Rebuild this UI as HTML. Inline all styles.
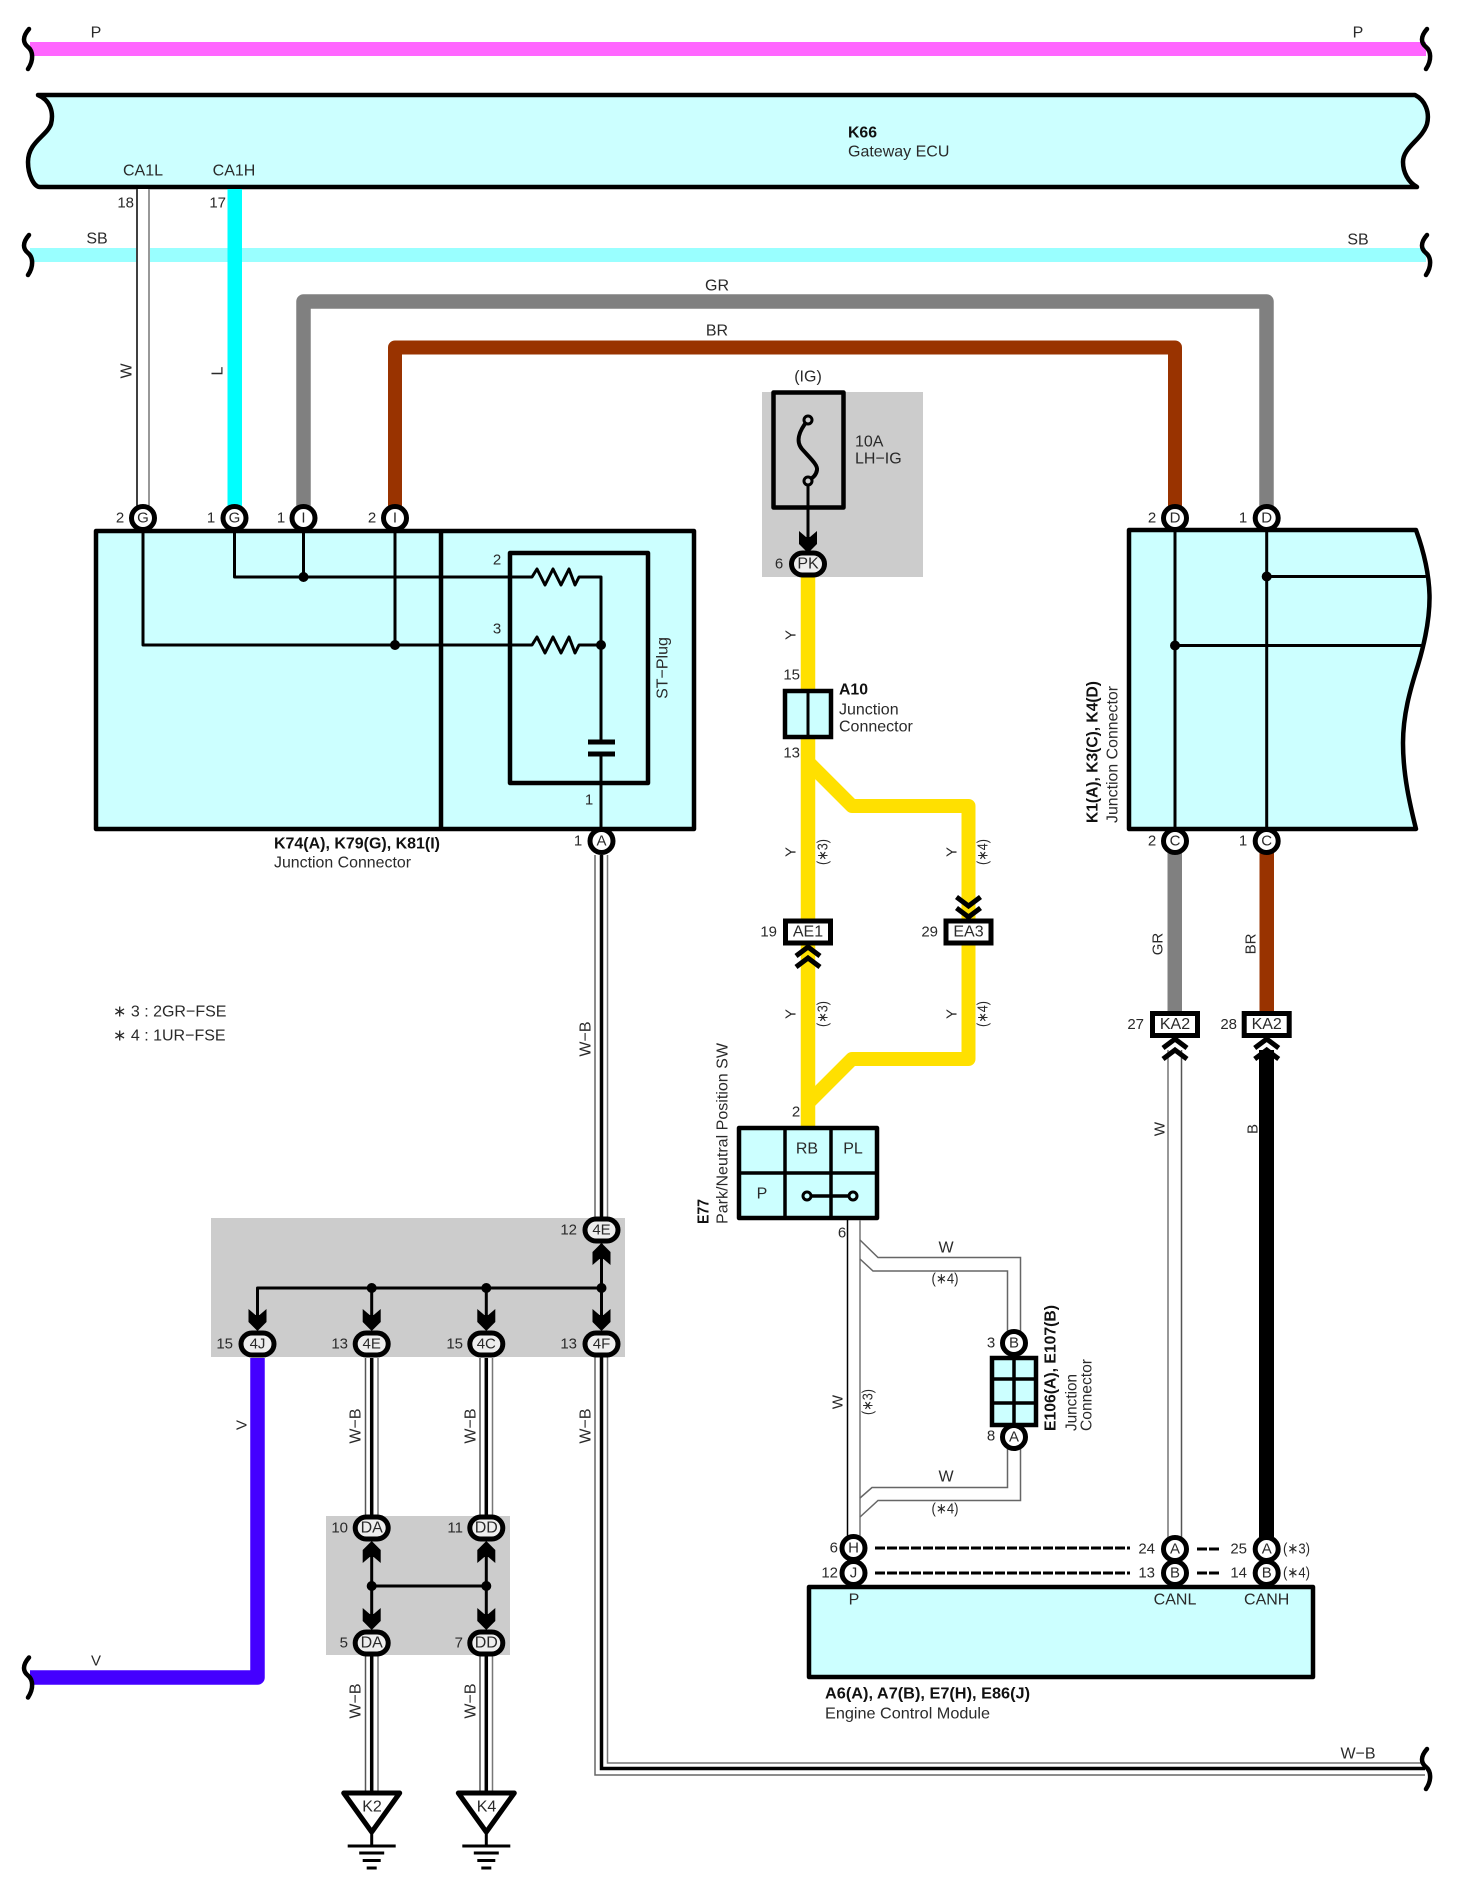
<!DOCTYPE html>
<html><head><meta charset="utf-8"><style>
html,body{margin:0;padding:0;background:#fff}
svg{display:block}
text{font-family:"Liberation Sans",sans-serif;font-size:16px;fill:#2a2a2a;dominant-baseline:central}
.n{font-size:15px}
.e{text-anchor:end}
.m{text-anchor:middle}
.b{font-weight:bold;fill:#111}
.t{fill:none;stroke:#000;stroke-width:3;stroke-linejoin:round;stroke-linecap:round}
</style></head><body>
<svg width="1457" height="1880" viewBox="0 0 1457 1880" xmlns="http://www.w3.org/2000/svg">
<defs>
<path id="br" d="M29,-20 C22,-12 23,-6 28,-2 C33,2 34,11 28,20" fill="none" stroke="#000" stroke-width="4.5" stroke-linecap="round"/>
<path id="ar" d="M-9,-20 L-2,-14 L2,-14 L9,-20 L9,-7 L0,2 L-9,-7Z" fill="#000"/>
<g id="ch" fill="none" stroke="#000" stroke-width="5"><polyline points="-12,11 0,2 12,11"/><polyline points="-12,22 0,13 12,22"/></g>
<rect id="pill" x="-16.5" y="-11" width="33" height="22" rx="11" fill="#eee" stroke="#000" stroke-width="5"/>
<circle id="c" r="11.5" fill="#fff" stroke="#000" stroke-width="5"/>
<rect id="bx" x="-22.5" y="-11" width="45" height="22" fill="#fff" stroke="#000" stroke-width="5"/>
<circle id="d" r="5" fill="#000"/>
<g id="gnd" fill="none" stroke="#000" stroke-linecap="butt">
<polygon points="-28,1 28,1 0,40" fill="#fff" stroke-width="5" stroke-linejoin="round"/>
<line x1="0" y1="40" x2="0" y2="54" stroke-width="3"/>
<line x1="-24" y1="54" x2="24" y2="54" stroke-width="3"/>
<line x1="-12.5" y1="61" x2="12.5" y2="61" stroke-width="3"/>
<line x1="-9" y1="68.500" x2="9" y2="68.500" stroke-width="3"/>
<line x1="-5" y1="76" x2="5" y2="76" stroke-width="3"/>
</g>
</defs>

<!-- grey zones -->
<rect x="762" y="392" width="161" height="185" fill="#ccc"/>
<rect x="211" y="1218" width="414" height="139" fill="#ccc"/>
<rect x="326" y="1516" width="184" height="139" fill="#ccc"/>

<!-- top buses -->
<rect x="30" y="42" width="1396" height="14" fill="#ff66ff"/>
<use href="#br" x="0" y="49"/><use href="#br" x="1398" y="49"/>
<rect x="30" y="248" width="1396" height="14" fill="#99ffff"/>
<use href="#br" x="0" y="255"/><use href="#br" x="1398" y="255"/>
<text x="96" y="33" class="m">P</text><text x="1358" y="33" class="m">P</text>
<text x="97" y="239" class="m">SB</text><text x="1358" y="240" class="m">SB</text>

<!-- K66 -->
<path d="M38,95 C50,100 54,112 51,124 C47,136 28,142 28,162 C28,175 34,187 40,187 L1417,187 C1408,182 1403,172 1403,162 C1403,147 1422,140 1427,124 C1430,112 1425,100 1415,95Z" fill="#ccffff" stroke="#000" stroke-width="4.5" stroke-linejoin="round"/>
<text x="848" y="133" class="b" textLength="29" lengthAdjust="spacingAndGlyphs">K66</text>
<text x="848" y="152">Gateway ECU</text>
<text x="143" y="171" class="m">CA1L</text><text x="234" y="171" class="m">CA1H</text>
<text x="134" y="203" class="e n">18</text><text x="226" y="203" class="e n">17</text>

<!-- wires from K66 -->
<rect x="136" y="189" width="14" height="320" fill="#fff"/>
<line x1="137" y1="189" x2="137" y2="510" stroke="#000" stroke-width="1.5"/>
<line x1="149" y1="189" x2="149" y2="510" stroke="#777" stroke-width="1.5"/>
<rect x="227.500" y="189" width="14.500" height="320" fill="#00ffff"/>
<text transform="translate(127,371) rotate(-90)" class="m">W</text>
<text transform="translate(218,371) rotate(-90)" class="m">L</text>

<path d="M303.500,510 V301.500 H1266.500 V510" fill="none" stroke="#808080" stroke-width="14.500" stroke-linejoin="round"/>
<path d="M395,510 V347.500 H1175 V510" fill="none" stroke="#993300" stroke-width="14" stroke-linejoin="round"/>
<text x="717" y="286" class="m">GR</text><text x="717" y="331" class="m">BR</text>

<!-- left junction box -->
<rect x="96" y="531" width="598" height="298" fill="#ccffff" stroke="#000" stroke-width="4.5" stroke-linejoin="round"/>
<line x1="441" y1="531" x2="441" y2="829" stroke="#000" stroke-width="4.5"/>
<rect x="510" y="553" width="138" height="230" fill="none" stroke="#000" stroke-width="4.5" stroke-linejoin="round"/>
<path class="t" d="M143,531 V645 H532 L537,637 L545,653 L553,637 L561,653 L569,637 L575,653 L579,645 H601"/>
<path class="t" d="M234.500,531 V577 H532 L537,569 L545,585 L553,569 L561,585 L569,569 L575,585 L579,577 H601 V742"/>
<line class="t" x1="303.500" y1="531" x2="303.500" y2="577"/>
<line class="t" x1="395" y1="531" x2="395" y2="645"/>
<line class="t" x1="601" y1="754" x2="601" y2="829"/>
<line x1="588" y1="742" x2="615" y2="742" stroke="#000" stroke-width="5"/>
<line x1="588" y1="754" x2="615" y2="754" stroke="#000" stroke-width="5"/>
<use href="#d" x="303.500" y="577"/><use href="#d" x="395" y="645"/><use href="#d" x="601" y="645"/>
<text x="497" y="560" class="m n">2</text><text x="497" y="629" class="m n">3</text><text x="589" y="800" class="m n">1</text>
<text transform="translate(663,668) rotate(-90)" class="m">ST&#8722;Plug</text>
<text x="274" y="844" class="b" textLength="166" lengthAdjust="spacingAndGlyphs">K74(A), K79(G), K81(I)</text>
<text x="274" y="863" textLength="137" lengthAdjust="spacingAndGlyphs">Junction Connector</text>

<use href="#c" x="143" y="518"/><use href="#c" x="234.500" y="518"/><use href="#c" x="303.500" y="518"/><use href="#c" x="395" y="518"/>
<text x="143" y="518" class="m n">G</text><text x="234.500" y="518" class="m n">G</text><text x="303.500" y="518" class="m n">I</text><text x="395" y="518" class="m n">I</text>
<text x="120" y="518" class="m n">2</text><text x="211" y="518" class="m n">1</text><text x="281" y="518" class="m n">1</text><text x="372" y="518" class="m n">2</text>

<!-- W-B from A -->
<path d="M595,855 V1775 H1425" fill="none" stroke="#666" stroke-width="1.500"/>
<path d="M601.500,855 V1768.500 H1425" fill="none" stroke="#000" stroke-width="3.500"/>
<path d="M607.500,855 V1763 H1425" fill="none" stroke="#777" stroke-width="1.500"/>
<rect x="593" y="1219" width="17" height="138" fill="#ccc"/>
<use href="#br" x="1398" y="1769"/>
<text x="1358" y="1754" class="m">W&#8722;B</text>
<use href="#c" x="601.500" y="841"/><text x="601.500" y="841" class="m n">A</text><text x="578" y="841" class="m n">1</text>
<text transform="translate(586,1039) rotate(-90)" class="m">W&#8722;B</text>

<!-- legend -->
<text x="113" y="1012">&#8727; 3 : 2GR&#8722;FSE</text>
<text x="113" y="1036">&#8727; 4 : 1UR&#8722;FSE</text>

<!-- fuse -->
<rect x="773.500" y="392.500" width="70" height="115" fill="none" stroke="#000" stroke-width="4.500" stroke-linejoin="round"/>
<path d="M808,420 C798,432 796,442 802,449 C810,458 818,465 817,470 C816,476 812,478 808,481" fill="none" stroke="#000" stroke-width="4"/>
<line x1="808" y1="481" x2="808" y2="550" stroke="#000" stroke-width="3"/>
<circle cx="808" cy="420" r="4" fill="#ccc" stroke="#000" stroke-width="3"/>
<circle cx="808" cy="481" r="4" fill="#ccc" stroke="#000" stroke-width="3"/>
<use href="#ar" x="808" y="551"/>
<text x="808" y="377" class="m">(IG)</text>
<text x="855" y="442">10A</text><text x="855" y="459">LH&#8722;IG</text>

<!-- yellow -->
<path d="M808,570 V1128" fill="none" stroke="#ffe000" stroke-width="14.500"/>
<path d="M808,762 L852,806 H968.500 V920" fill="none" stroke="#ffe000" stroke-width="14" stroke-linejoin="round"/>
<path d="M808,1103 L852,1059 H968.500 V945" fill="none" stroke="#ffe000" stroke-width="14" stroke-linejoin="round"/>
<use href="#pill" x="808" y="564"/><text x="808" y="564" class="m">PK</text><text x="779" y="564" class="m n">6</text>
<text transform="translate(791,635) rotate(-90)" class="m n">Y</text>
<text x="800" y="675" class="e n">15</text><text x="800" y="753" class="e n">13</text>
<rect x="785" y="691" width="46" height="46" fill="#ccffff" stroke="#000" stroke-width="4.500"/>
<line x1="808" y1="691" x2="808" y2="737" stroke="#000" stroke-width="3"/>
<text x="839" y="690" class="b" textLength="29" lengthAdjust="spacingAndGlyphs">A10</text>
<text x="839" y="710">Junction</text><text x="839" y="727">Connector</text>

<use href="#bx" x="808" y="932"/><text x="808" y="932" class="m">AE1</text>
<use href="#bx" x="968.500" y="932"/><text x="968.500" y="932" class="m">EA3</text>
<text x="777" y="932" class="e n">19</text><text x="938" y="932" class="e n">29</text>
<use href="#ch" x="808" y="945"/>
<use href="#ch" transform="translate(968.500,919) scale(1,-1)"/>
<text transform="translate(791,852) rotate(-90)" class="m n">Y</text>
<text transform="translate(823,852) rotate(-90)" class="m n" textLength="26" lengthAdjust="spacingAndGlyphs">(&#8727;3)</text>
<text transform="translate(791,1014) rotate(-90)" class="m n">Y</text>
<text transform="translate(823,1014) rotate(-90)" class="m n" textLength="26" lengthAdjust="spacingAndGlyphs">(&#8727;3)</text>
<text transform="translate(952,852) rotate(-90)" class="m n">Y</text>
<text transform="translate(983,852) rotate(-90)" class="m n" textLength="26" lengthAdjust="spacingAndGlyphs">(&#8727;4)</text>
<text transform="translate(952,1014) rotate(-90)" class="m n">Y</text>
<text transform="translate(983,1014) rotate(-90)" class="m n" textLength="26" lengthAdjust="spacingAndGlyphs">(&#8727;4)</text>
<text x="796" y="1112" class="m n">2</text>

<!-- E77 -->
<rect x="739" y="1128" width="138" height="90" fill="#ccffff" stroke="#000" stroke-width="4.500" stroke-linejoin="round"/>
<path d="M785,1128 V1218 M831,1128 V1218 M739,1173 H877" stroke="#000" stroke-width="3.500" fill="none"/>
<text x="807" y="1149" class="m">RB</text><text x="853" y="1149" class="m">PL</text><text x="762" y="1194" class="m">P</text>
<line x1="807" y1="1196" x2="853" y2="1196" stroke="#000" stroke-width="3.500"/>
<circle cx="807" cy="1196" r="4" fill="#ccffff" stroke="#000" stroke-width="3"/>
<circle cx="853" cy="1196" r="4" fill="#ccffff" stroke="#000" stroke-width="3"/>
<text transform="translate(704,1224) rotate(-90)" class="b" textLength="25" lengthAdjust="spacingAndGlyphs">E77</text>
<text transform="translate(723,1224) rotate(-90)" textLength="181" lengthAdjust="spacingAndGlyphs">Park/Neutral Position SW</text>

<!-- W from E77 -->
<line x1="847.500" y1="1220" x2="847.500" y2="1536" stroke="#000" stroke-width="1.500"/>
<line x1="860" y1="1220" x2="860" y2="1536" stroke="#777" stroke-width="1.500"/>
<path d="M860,1240 L878,1257.500 H1020.500 V1335 M860,1259 L873,1271 H1007.500 V1335 M1007.500,1449 V1487.500 H872 L860,1498 M1020.500,1449 V1500.500 H878 L860,1517" fill="none" stroke="#666" stroke-width="1.500"/>
<text x="842" y="1233" class="m n">6</text>
<text x="946" y="1248" class="m">W</text><text x="945" y="1279" class="m n" textLength="27" lengthAdjust="spacingAndGlyphs">(&#8727;4)</text>
<text x="946" y="1477" class="m">W</text><text x="945" y="1509" class="m n" textLength="27" lengthAdjust="spacingAndGlyphs">(&#8727;4)</text>
<text transform="translate(838,1402) rotate(-90)" class="m n">W</text>
<text transform="translate(868,1402) rotate(-90)" class="m n" textLength="26" lengthAdjust="spacingAndGlyphs">(&#8727;3)</text>

<!-- E106 -->
<rect x="992" y="1358" width="44" height="67" fill="#ccffff" stroke="#000" stroke-width="4.500"/>
<path d="M1014,1358 V1425 M992,1379 H1036 M992,1403 H1036" stroke="#000" stroke-width="3.500" fill="none"/>
<use href="#c" x="1014" y="1343"/><text x="1014" y="1343" class="m n">B</text>
<use href="#c" x="1014" y="1437"/><text x="1014" y="1437" class="m n">A</text>
<text x="991" y="1343" class="m n">3</text><text x="991" y="1436" class="m n">8</text>
<text transform="translate(1051,1431) rotate(-90)" class="b" textLength="126" lengthAdjust="spacingAndGlyphs">E106(A), E107(B)</text>
<text transform="translate(1072,1431) rotate(-90)" textLength="57" lengthAdjust="spacingAndGlyphs">Junction</text>
<text transform="translate(1087,1431) rotate(-90)" textLength="72" lengthAdjust="spacingAndGlyphs">Connector</text>

<!-- right junction box -->
<path d="M1129,530 H1416 C1424,552 1429,575 1429.500,595 C1430,620 1424,645 1418,665 C1410,690 1403,715 1403,743 C1403,775 1410,805 1416,829 H1129Z" fill="#ccffff" stroke="#000" stroke-width="4.500" stroke-linejoin="round"/>
<path class="t" d="M1175,530 V829 M1266.700,530 V829 M1266.700,576.500 H1425 M1175,645.500 H1423"/>
<use href="#d" x="1266.700" y="576.500"/><use href="#d" x="1175" y="645.500"/>
<use href="#c" x="1175" y="518"/><use href="#c" x="1266.700" y="518"/>
<text x="1175" y="518" class="m n">D</text><text x="1266.700" y="518" class="m n">D</text>
<text x="1152" y="518" class="m n">2</text><text x="1243" y="518" class="m n">1</text>
<text transform="translate(1093,823) rotate(-90)" class="b" textLength="142" lengthAdjust="spacingAndGlyphs">K1(A), K3(C), K4(D)</text>
<text transform="translate(1113,823) rotate(-90)" textLength="137" lengthAdjust="spacingAndGlyphs">Junction Connector</text>

<rect x="1167.500" y="850" width="14.500" height="165" fill="#808080"/>
<rect x="1259.500" y="850" width="14.500" height="165" fill="#993300"/>
<use href="#c" x="1175" y="841"/><use href="#c" x="1266.700" y="841"/>
<text x="1175" y="841" class="m n">C</text><text x="1266.700" y="841" class="m n">C</text>
<text x="1152" y="841" class="m n">2</text><text x="1243" y="841" class="m n">1</text>
<text transform="translate(1158,944) rotate(-90)" class="m n">GR</text>
<text transform="translate(1251,944) rotate(-90)" class="m n">BR</text>
<use href="#bx" x="1175" y="1024.500"/><use href="#bx" x="1266.700" y="1024.500"/>
<text x="1175" y="1024.500" class="m">KA2</text><text x="1266.700" y="1024.500" class="m">KA2</text>
<text x="1144" y="1024.500" class="e n">27</text><text x="1237" y="1024.500" class="e n">28</text>

<line x1="1168" y1="1050" x2="1168" y2="1538" stroke="#777" stroke-width="1.500"/>
<line x1="1181.500" y1="1050" x2="1181.500" y2="1538" stroke="#555" stroke-width="1.500"/>
<rect x="1259" y="1050" width="15" height="488" fill="#000"/>
<use href="#ch" x="1175" y="1037"/><use href="#ch" x="1266.700" y="1037"/>
<text transform="translate(1160,1129) rotate(-90)" class="m n">W</text>
<text transform="translate(1253,1129) rotate(-90)" class="m n">B</text>

<!-- ECM -->
<rect x="809" y="1587" width="504" height="90" fill="#ccffff" stroke="#000" stroke-width="4.500" stroke-linejoin="round"/>
<use href="#c" x="853.500" y="1548"/><use href="#c" x="853.500" y="1573"/>
<use href="#c" x="1175" y="1549"/><use href="#c" x="1175" y="1573"/>
<use href="#c" x="1266.700" y="1549"/><use href="#c" x="1266.700" y="1573"/>
<text x="853.500" y="1548" class="m n">H</text><text x="853.500" y="1573" class="m n">J</text>
<text x="1175" y="1549" class="m n">A</text><text x="1175" y="1573" class="m n">B</text>
<text x="1266.700" y="1549" class="m n">A</text><text x="1266.700" y="1573" class="m n">B</text>
<text x="838" y="1548" class="e n">6</text><text x="838" y="1573" class="e n">12</text>
<path d="M875,1548 H1130 M875,1573 H1130 M1197,1549 H1219 M1197,1573 H1219" stroke="#000" stroke-width="3" stroke-dasharray="10 2" fill="none"/>
<text x="1155" y="1549" class="e n">24</text><text x="1155" y="1573" class="e n">13</text>
<text x="1247" y="1549" class="e n">25</text><text x="1247" y="1573" class="e n">14</text>
<text x="1283" y="1549" class="n" textLength="27" lengthAdjust="spacingAndGlyphs">(&#8727;3)</text><text x="1283" y="1573" class="n" textLength="27" lengthAdjust="spacingAndGlyphs">(&#8727;4)</text>
<text x="854" y="1600" class="m">P</text><text x="1175" y="1600" class="m">CANL</text><text x="1266.700" y="1600" class="m">CANH</text>
<text x="825" y="1694" class="b" textLength="205" lengthAdjust="spacingAndGlyphs">A6(A), A7(B), E7(H), E86(J)</text>
<text x="825" y="1714" textLength="165" lengthAdjust="spacingAndGlyphs">Engine Control Module</text>

<!-- ground splice -->
<path class="t" d="M257.500,1325 V1288 H601.500 M371.700,1288 V1325 M486.300,1288 V1325 M601.500,1245 V1325"/>
<use href="#d" x="371.700" y="1288"/><use href="#d" x="486.300" y="1288"/><use href="#d" x="601.500" y="1288"/>
<use href="#ar" x="257.500" y="1329"/><use href="#ar" x="371.700" y="1329"/><use href="#ar" x="486.300" y="1329"/><use href="#ar" x="601.500" y="1329"/>
<use href="#ar" transform="translate(601.500,1245) scale(1,-1)"/>
<use href="#pill" x="601.500" y="1230"/><text x="601.500" y="1230" class="m n">4E</text><text x="577" y="1230" class="e n">12</text>
<use href="#pill" x="257.500" y="1344"/><use href="#pill" x="371.700" y="1344"/><use href="#pill" x="486.300" y="1344"/><use href="#pill" x="601.500" y="1344"/>
<text x="257.500" y="1344" class="m n">4J</text><text x="371.700" y="1344" class="m n">4E</text><text x="486.300" y="1344" class="m n">4C</text><text x="601.500" y="1344" class="m n">4F</text>
<text x="233" y="1344" class="e n">15</text><text x="348" y="1344" class="e n">13</text><text x="463" y="1344" class="e n">15</text><text x="577" y="1344" class="e n">13</text>

<!-- V wire -->
<path d="M30,1677.500 H257.500 V1358" fill="none" stroke="#4400ff" stroke-width="14.500" stroke-linejoin="round"/>
<use href="#br" x="0" y="1677.500"/>
<text x="96" y="1661" class="m n">V</text>
<text transform="translate(242,1425) rotate(-90)" class="m n">V</text>

<!-- W-B drops -->
<g fill="none">
<path d="M365.500,1358 V1516 M365.500,1656 V1793 M480,1358 V1516 M480,1656 V1793" stroke="#555" stroke-width="1.500"/>
<path d="M378,1358 V1516 M378,1656 V1793 M492.500,1358 V1516 M492.500,1656 V1793" stroke="#777" stroke-width="1.500"/>
<path d="M371.700,1358 V1516 M371.700,1656 V1793 M486.300,1358 V1516 M486.300,1656 V1793" stroke="#000" stroke-width="3.500"/>
</g>
<text transform="translate(356,1426) rotate(-90)" class="m">W&#8722;B</text>
<text transform="translate(471,1426) rotate(-90)" class="m">W&#8722;B</text>
<text transform="translate(586,1426) rotate(-90)" class="m">W&#8722;B</text>
<text transform="translate(356,1701) rotate(-90)" class="m">W&#8722;B</text>
<text transform="translate(471,1701) rotate(-90)" class="m">W&#8722;B</text>

<path class="t" d="M371.700,1545 V1625 M486.300,1545 V1625 M371.700,1586 H486.300"/>
<use href="#d" x="371.700" y="1586"/><use href="#d" x="486.300" y="1586"/>
<use href="#ar" transform="translate(371.700,1543) scale(1,-1)"/><use href="#ar" transform="translate(486.300,1543) scale(1,-1)"/>
<use href="#ar" x="371.700" y="1628"/><use href="#ar" x="486.300" y="1628"/>
<use href="#pill" x="371.700" y="1528"/><use href="#pill" x="486.300" y="1528"/>
<use href="#pill" x="371.700" y="1643"/><use href="#pill" x="486.300" y="1643"/>
<text x="371.700" y="1528" class="m">DA</text><text x="486.300" y="1528" class="m">DD</text>
<text x="371.700" y="1643" class="m">DA</text><text x="486.300" y="1643" class="m">DD</text>
<text x="348" y="1528" class="e n">10</text><text x="463" y="1528" class="e n">11</text>
<text x="348" y="1643" class="e n">5</text><text x="463" y="1643" class="e n">7</text>

<use href="#gnd" x="371.700" y="1792"/><use href="#gnd" x="486.300" y="1792"/>
<text x="372" y="1807" class="m">K2</text><text x="486.500" y="1807" class="m">K4</text>
</svg>
</body></html>
